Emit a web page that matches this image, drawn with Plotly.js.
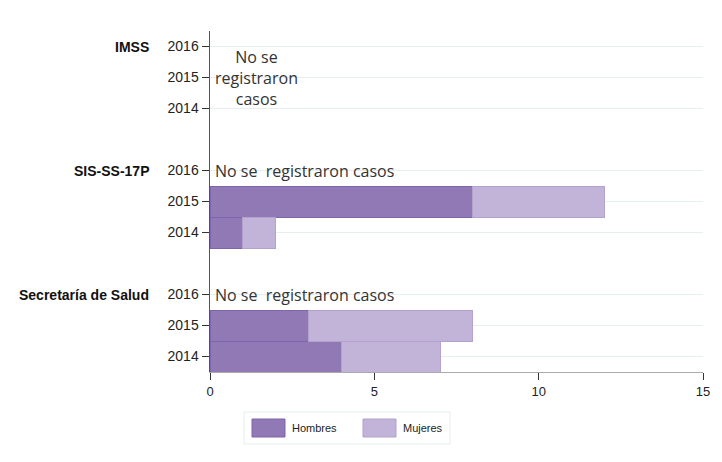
<!DOCTYPE html>
<html>
<head>
<meta charset="utf-8">
<script src="https://cdn.plot.ly/plotly-3.0.1.min.js"></script>
<style>html,body{margin:0;padding:0;background:#fff;}#chart{width:722px;height:462px;}</style>
</head>
<body>
<div id="chart"></div>
<script>
// Data
const groups = ['Secretaría de Salud', 'SIS-SS-17P', 'IMSS'];
const years = ['2014', '2015', '2016'];
const seriesNames = ['Hombres', 'Mujeres'];
const ssHombres = [4, 3, null];
const ssMujeres = [3, 5, null];
const sisHombres = [1, 8, null];
const sisMujeres = [1, 4, null];
const imssHombres = [null, null, null];
const imssMujeres = [null, null, null];
const noDataText = 'No se  registraron casos';
const noDataTextIMSS = 'No se<br>registraron<br>casos';

const hombresByGroup = [ssHombres, sisHombres, imssHombres];
const mujeresByGroup = [ssMujeres, sisMujeres, imssMujeres];

// positions: each group takes 3 rows + 1 gap row
const yPos = [], yLabels = [], hVals = [], mVals = [];
groups.forEach((g, gi) => {
  years.forEach((yr, yi) => {
    yPos.push(gi * 4 + yi);
    yLabels.push(yr);
    hVals.push(hombresByGroup[gi][yi]);
    mVals.push(mujeresByGroup[gi][yi]);
  });
});

const colH = '#9179b5', lineH = '#7e64aa';
const colM = '#c2b3d8', lineM = '#b3a2cd';

const traces = [
  {type: 'bar', orientation: 'h', name: seriesNames[0], y: yPos, x: hVals,
   marker: {color: colH, line: {color: lineH, width: 1}}, hoverinfo: 'x+name'},
  {type: 'bar', orientation: 'h', name: seriesNames[1], y: yPos, x: mVals,
   marker: {color: colM, line: {color: lineM, width: 1}}, hoverinfo: 'x+name'}
];

const annotations = [];
// group labels
groups.forEach((g, gi) => {
  annotations.push({xref: 'paper', yref: 'y', x: -0.119, y: gi * 4 + 2, text: '<b>' + g + '</b>',
    showarrow: false, xanchor: 'right', yanchor: 'middle',
    font: {family: 'Liberation Sans, Arial, sans-serif', size: 14, color: '#111'}});
});
// no-data notes
groups.forEach((g, gi) => {
  const allNull = hombresByGroup[gi].every(v => v === null);
  if (allNull) {
    annotations.push({xref: 'x', yref: 'y', x: 0, y: gi * 4 + 1, text: noDataTextIMSS,
      showarrow: false, xanchor: 'left', yanchor: 'middle', align: 'center', xshift: 3,
      font: {family: 'Open Sans, Noto Sans, sans-serif', size: 16, color: '#333'}});
  } else {
    years.forEach((yr, yi) => {
      if (hombresByGroup[gi][yi] === null && mujeresByGroup[gi][yi] === null) {
        annotations.push({xref: 'x', yref: 'y', x: 0, y: gi * 4 + yi, text: noDataText,
          showarrow: false, xanchor: 'left', yanchor: 'middle', xshift: 3,
          font: {family: 'Open Sans, Noto Sans, sans-serif', size: 16, color: '#333'}});
      }
    });
  }
});

// custom legend
const px = v => (v - 210) / 493;
const py = v => (372 - v) / 341;
const shapes = [
  {type: 'rect', xref: 'paper', yref: 'paper', x0: px(244), x1: px(450), y0: py(412), y1: py(444),
   line: {color: '#e4ecee', width: 1}, fillcolor: 'rgba(0,0,0,0)'},
  {type: 'rect', xref: 'paper', yref: 'paper', x0: px(252), x1: px(285), y0: py(419), y1: py(437),
   line: {color: lineH, width: 1}, fillcolor: colH},
  {type: 'rect', xref: 'paper', yref: 'paper', x0: px(363), x1: px(396), y0: py(419), y1: py(437),
   line: {color: lineM, width: 1}, fillcolor: colM}
];
annotations.push({xref: 'paper', yref: 'paper', x: px(290), y: py(428), text: seriesNames[0], showarrow: false,
  xanchor: 'left', yanchor: 'middle', font: {family: 'Liberation Sans, Arial, sans-serif', size: 11, color: '#222'}});
annotations.push({xref: 'paper', yref: 'paper', x: px(401), y: py(428), text: seriesNames[1], showarrow: false,
  xanchor: 'left', yanchor: 'middle', font: {family: 'Liberation Sans, Arial, sans-serif', size: 11, color: '#222'}});

const layout = {
  width: 722, height: 462,
  margin: {l: 210, r: 19, t: 31, b: 90},
  paper_bgcolor: '#fff', plot_bgcolor: '#fff',
  barmode: 'stack', bargap: 0,
  showlegend: false,
  xaxis: {range: [0, 15], tickvals: [0, 5, 10, 15], ticks: 'outside', ticklen: 7, tickcolor: '#333',
    showgrid: false, zeroline: false, showline: true, linecolor: '#aaa', linewidth: 1,
    tickfont: {family: 'Liberation Sans, Arial, sans-serif', size: 13, color: '#222'}, fixedrange: true},
  yaxis: {range: [-0.5, 10.5], tickvals: yPos, ticktext: yLabels, ticks: 'outside', ticklen: 7, tickcolor: '#333',
    showgrid: true, gridcolor: '#e6eef0', gridwidth: 1, zeroline: false, showline: true, linecolor: '#555', linewidth: 1.5,
    tickfont: {family: 'Liberation Sans, Arial, sans-serif', size: 14, color: '#222'}, fixedrange: true},
  annotations: annotations,
  shapes: shapes
};

Plotly.newPlot('chart', traces, layout, {displayModeBar: false, staticPlot: true});
</script>
</body>
</html>
